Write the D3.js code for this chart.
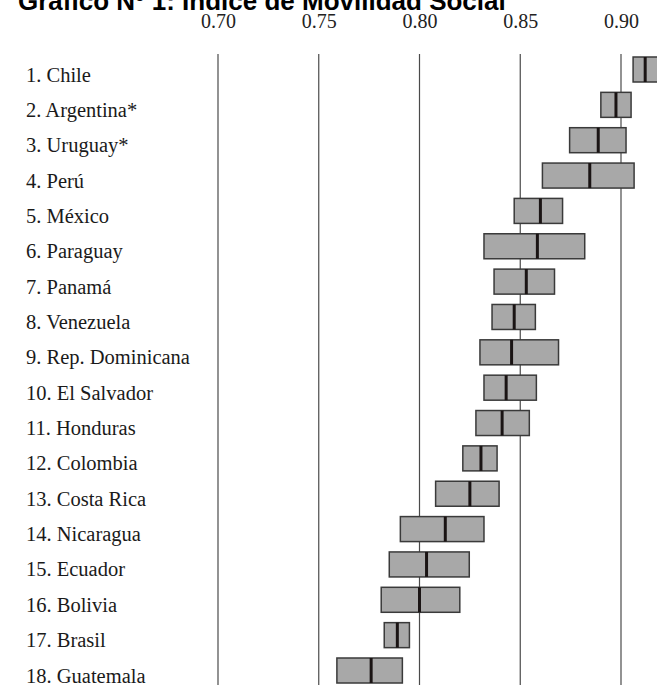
<!DOCTYPE html>
<html>
<head>
<meta charset="utf-8">
<script src="https://cdn.jsdelivr.net/npm/d3@7"></script>
<style>
  html, body { margin: 0; padding: 0; background: #fff; }
  svg { display: block; }
</style>
</head>
<body>
<div id="chart"></div>
<script>
const titleText = "Gráfico Nº 1: Índice de Movilidad Social";
const countries = ["1. Chile", "2. Argentina*", "3. Uruguay*", "4. Perú", "5. México", "6. Paraguay",
  "7. Panamá", "8. Venezuela", "9. Rep. Dominicana", "10. El Salvador", "11. Honduras", "12. Colombia",
  "13. Costa Rica", "14. Nicaragua", "15. Ecuador", "16. Bolivia", "17. Brasil", "18. Guatemala"];
const lowValues =    [0.906, 0.890, 0.8745, 0.861, 0.847, 0.832, 0.837, 0.836, 0.830, 0.832, 0.828, 0.8215, 0.808, 0.7905, 0.785, 0.781, 0.7825, 0.759];
const medianValues = [0.912, 0.8975, 0.8887, 0.8845, 0.860, 0.8585, 0.853, 0.847, 0.8457, 0.843, 0.841, 0.8305, 0.825, 0.8128, 0.8035, 0.800, 0.789, 0.776];
const highValues =   [0.920, 0.905, 0.9025, 0.9065, 0.871, 0.882, 0.867, 0.8575, 0.869, 0.858, 0.8545, 0.8385, 0.8395, 0.832, 0.8247, 0.820, 0.795, 0.7915];
const tickValues = [0.70, 0.75, 0.80, 0.85, 0.90];

const W = 657, H = 685;
const svg = d3.select("#chart").append("svg").attr("width", W).attr("height", H);

const rows = countries.map((c, i) => ({ name: c, low: lowValues[i], med: medianValues[i], high: highValues[i] }));

const x = d3.scaleLinear().domain([0.70, 0.90]).range([218, 621]);
const y = d3.scalePoint().domain(countries).range([69.5, 670.5]);
const boxH = 25;

// Title (cut off at top, as in the reference)
svg.append("text")
  .attr("x", 18).attr("y", 10)
  .attr("font-family", "'Liberation Sans', Arial, sans-serif")
  .attr("font-weight", "bold")
  .attr("font-size", 26)
  .attr("fill", "#000")
  .text(titleText);

// Tick labels
const axis = d3.axisTop(x).tickValues(tickValues).tickSize(0).tickPadding(0).tickFormat(d3.format(".2f"));
const ag = svg.append("g").attr("transform", "translate(0,28)").call(axis);
ag.select(".domain").remove();
ag.selectAll("text")
  .attr("font-family", "'Liberation Serif', 'Times New Roman', serif")
  .attr("font-size", 20)
  .attr("fill", "#222")
  .attr("dy", 0);

// Gridlines
svg.append("g").selectAll("line").data(tickValues).join("line")
  .attr("x1", d => x(d)).attr("x2", d => x(d))
  .attr("y1", 54).attr("y2", H)
  .attr("stroke", "#4a4a4a").attr("stroke-width", 1.2);

// Country labels
svg.append("g").selectAll("text").data(rows).join("text")
  .attr("x", 26).attr("y", d => y(d.name) + 12)
  .attr("font-family", "'Liberation Serif', 'Times New Roman', serif")
  .attr("font-size", 20.5)
  .attr("fill", "#1a1a1a")
  .text(d => d.name);

// Boxes
const g = svg.append("g");
g.selectAll("rect").data(rows).join("rect")
  .attr("x", d => x(d.low))
  .attr("y", d => y(d.name) - boxH / 2)
  .attr("width", d => x(d.high) - x(d.low))
  .attr("height", boxH)
  .attr("fill", "#a8a8a8")
  .attr("stroke", "#3a3a3a")
  .attr("stroke-width", 1.5);

g.selectAll("line.med").data(rows).join("line")
  .attr("class", "med")
  .attr("x1", d => x(d.med)).attr("x2", d => x(d.med))
  .attr("y1", d => y(d.name) - boxH / 2).attr("y2", d => y(d.name) + boxH / 2)
  .attr("stroke", "#1a1414").attr("stroke-width", 3);
</script>
</body>
</html>
